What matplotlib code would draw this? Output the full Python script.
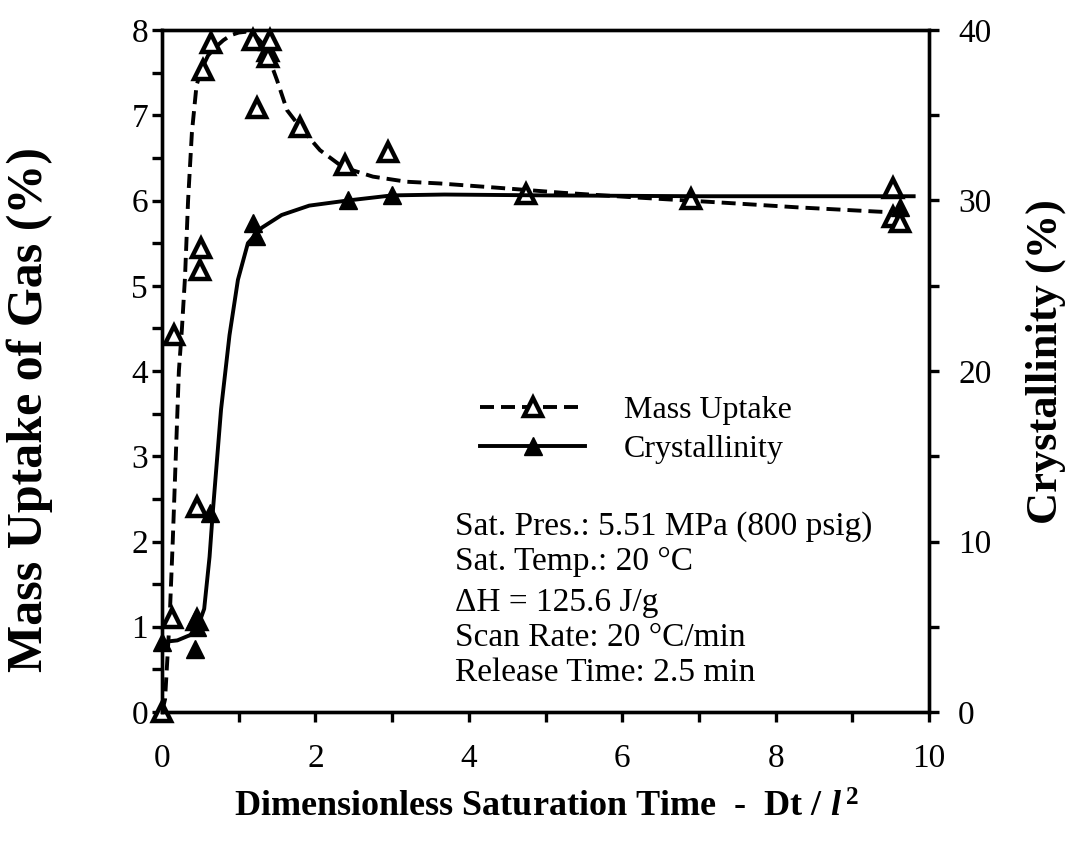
import matplotlib
matplotlib.use("Agg")
import matplotlib.pyplot as plt
from matplotlib.ticker import MultipleLocator

plt.rcParams["font.family"] = ["Liberation Serif", "DejaVu Serif"]
plt.rcParams["mathtext.fontset"] = "custom"
plt.rcParams["mathtext.rm"] = "Liberation Serif:bold"
plt.rcParams["mathtext.it"] = "Liberation Serif:italic:bold"

# measured points - mass uptake of gas (%), left axis
mass_x = [0.0, 0.13, 0.15, 0.45, 0.45, 0.50, 0.51, 0.53, 0.64, 1.19, 1.24,
          1.38, 1.38, 1.41, 1.80, 2.39, 2.95, 4.75, 6.9, 9.53, 9.53, 9.62]
mass_y = [0.0, 1.1, 4.42, 2.4, 1.08, 5.18, 5.44, 7.53, 7.85, 7.88, 7.08,
          7.75, 7.68, 7.88, 6.86, 6.42, 6.57, 6.08, 6.02, 6.15, 5.81, 5.75]

# measured points - crystallinity (%), right axis
cryst_x = [0.0, 0.43, 0.45, 0.43, 0.62, 1.19, 1.23, 2.42, 3.0, 9.62]
cryst_y = [4.1, 5.4, 5.0, 3.7, 11.7, 28.7, 27.9, 30.0, 30.3, 29.6]

# fitted curves
mass_fit_x = [0.0, 0.04, 0.10, 0.14, 0.18, 0.22, 0.26, 0.30, 0.34, 0.39, 0.45,
              0.52, 0.6, 0.7, 0.8, 0.9, 1.0, 1.1, 1.2, 1.3, 1.37, 1.5, 1.63,
              1.8, 2.06, 2.36, 2.75, 3.19, 3.62, 4.37, 5.23, 6.1, 7.4, 8.28,
              9.32, 9.55]
mass_fit_y = [0.0, 0.15, 1.1, 2.0, 3.0, 4.0, 4.5, 5.1, 6.0, 6.8, 7.35,
              7.55, 7.7, 7.8, 7.88, 7.94, 7.97, 7.98, 7.95, 7.85, 7.73, 7.41,
              7.06, 6.86, 6.59, 6.39, 6.28, 6.22, 6.2, 6.15, 6.09, 6.04, 5.97,
              5.92, 5.87, 5.86]

cryst_fit_x = [0.0, 0.2, 0.44, 0.55, 0.62, 0.66, 0.77, 0.88, 0.99, 1.12, 1.30,
               1.56, 1.92, 2.42, 3.0, 3.68, 5.0, 7.0, 9.8]
cryst_fit_y = [4.1, 4.2, 4.65, 6.05, 9.1, 11.6, 17.75, 22.1, 25.35, 27.5, 28.4,
               29.15, 29.7, 30.0, 30.3, 30.35, 30.3, 30.25, 30.25]

notes = ["Sat. Pres.: 5.51 MPa (800 psig)",
         "Sat. Temp.: 20 \u00b0C",
         "\u0394H = 125.6 J/g",
         "Scan Rate: 20 \u00b0C/min",
         "Release Time: 2.5 min"]
note_y = [0.374, 0.333, 0.284, 0.243, 0.201]

W, H = 1073, 842
fig = plt.figure(figsize=(W / 100, H / 100), dpi=100)
ax = fig.add_axes([162 / W, 1 - 712 / H, (929 - 162) / W, (712 - 30) / H])
ax2 = ax.twinx()

lw = 2.8
dash = (3.6, 1.8)
ms = 13
ax.plot(mass_fit_x, mass_fit_y, color="black", lw=lw, dashes=dash)
ax.plot(mass_x, mass_y, linestyle="none", marker="^", ms=ms, mfc="white",
        mec="black", mew=3.2, clip_on=False)

ax2.plot(cryst_fit_x, cryst_fit_y, color="black", lw=lw)
ax2.plot(cryst_x, cryst_y, linestyle="none", marker="^", ms=ms, color="black",
         clip_on=False)

ax.set_xlim(0, 10)
ax.set_ylim(0, 8)
ax2.set_ylim(0, 40)

ax.xaxis.set_major_locator(MultipleLocator(2))
ax.xaxis.set_minor_locator(MultipleLocator(1))
ax.yaxis.set_major_locator(MultipleLocator(1))
ax.yaxis.set_minor_locator(MultipleLocator(0.5))
ax2.yaxis.set_major_locator(MultipleLocator(10))
ax2.yaxis.set_minor_locator(MultipleLocator(5))

for a in (ax, ax2):
    for s in a.spines.values():
        s.set_linewidth(2.4)
    a.tick_params(which="both", direction="out", width=2.4, length=7,
                  labelsize=24, pad=6)
ax.tick_params(axis="x", pad=16)
ax.tick_params(axis="y", pad=3)
ax2.tick_params(axis="y", pad=14)

# legend
h1 = plt.Line2D([], [], color="black", lw=lw, dashes=dash, marker="^",
                ms=ms, mfc="white", mec="black", mew=3.2)
h2 = plt.Line2D([], [], color="black", lw=lw, marker="^", ms=ms)
ax2.legend([h1, h2], ["Mass Uptake", "Crystallinity"], loc="upper left",
           bbox_to_anchor=(480 / W, 1 - 396 / H), bbox_transform=fig.transFigure,
           frameon=False, fontsize=23, handlelength=3.3, handletextpad=1.2,
           labelspacing=0.3, borderpad=0, borderaxespad=0, numpoints=1)

for t, y in zip(notes, note_y):
    fig.text(455 / W, y, t, fontsize=24, va="center", ha="left")

fig.text(30 / W, 1 - 410 / H, "Mass Uptake of Gas (%)", rotation=90,
         fontsize=36, fontweight="bold", va="center", ha="center")
fig.text(1046 / W, 1 - 362 / H, "Crystallinity (%)", rotation=90,
         fontsize=32, fontweight="bold", va="center", ha="center")
fig.text(547 / W, 1 - 808 / H, r"Dimensionless Saturation Time  -  Dt / $l^{\,2}$",
         fontsize=26, fontweight="bold", va="center", ha="center")

fig.savefig("out.png", dpi=100)
